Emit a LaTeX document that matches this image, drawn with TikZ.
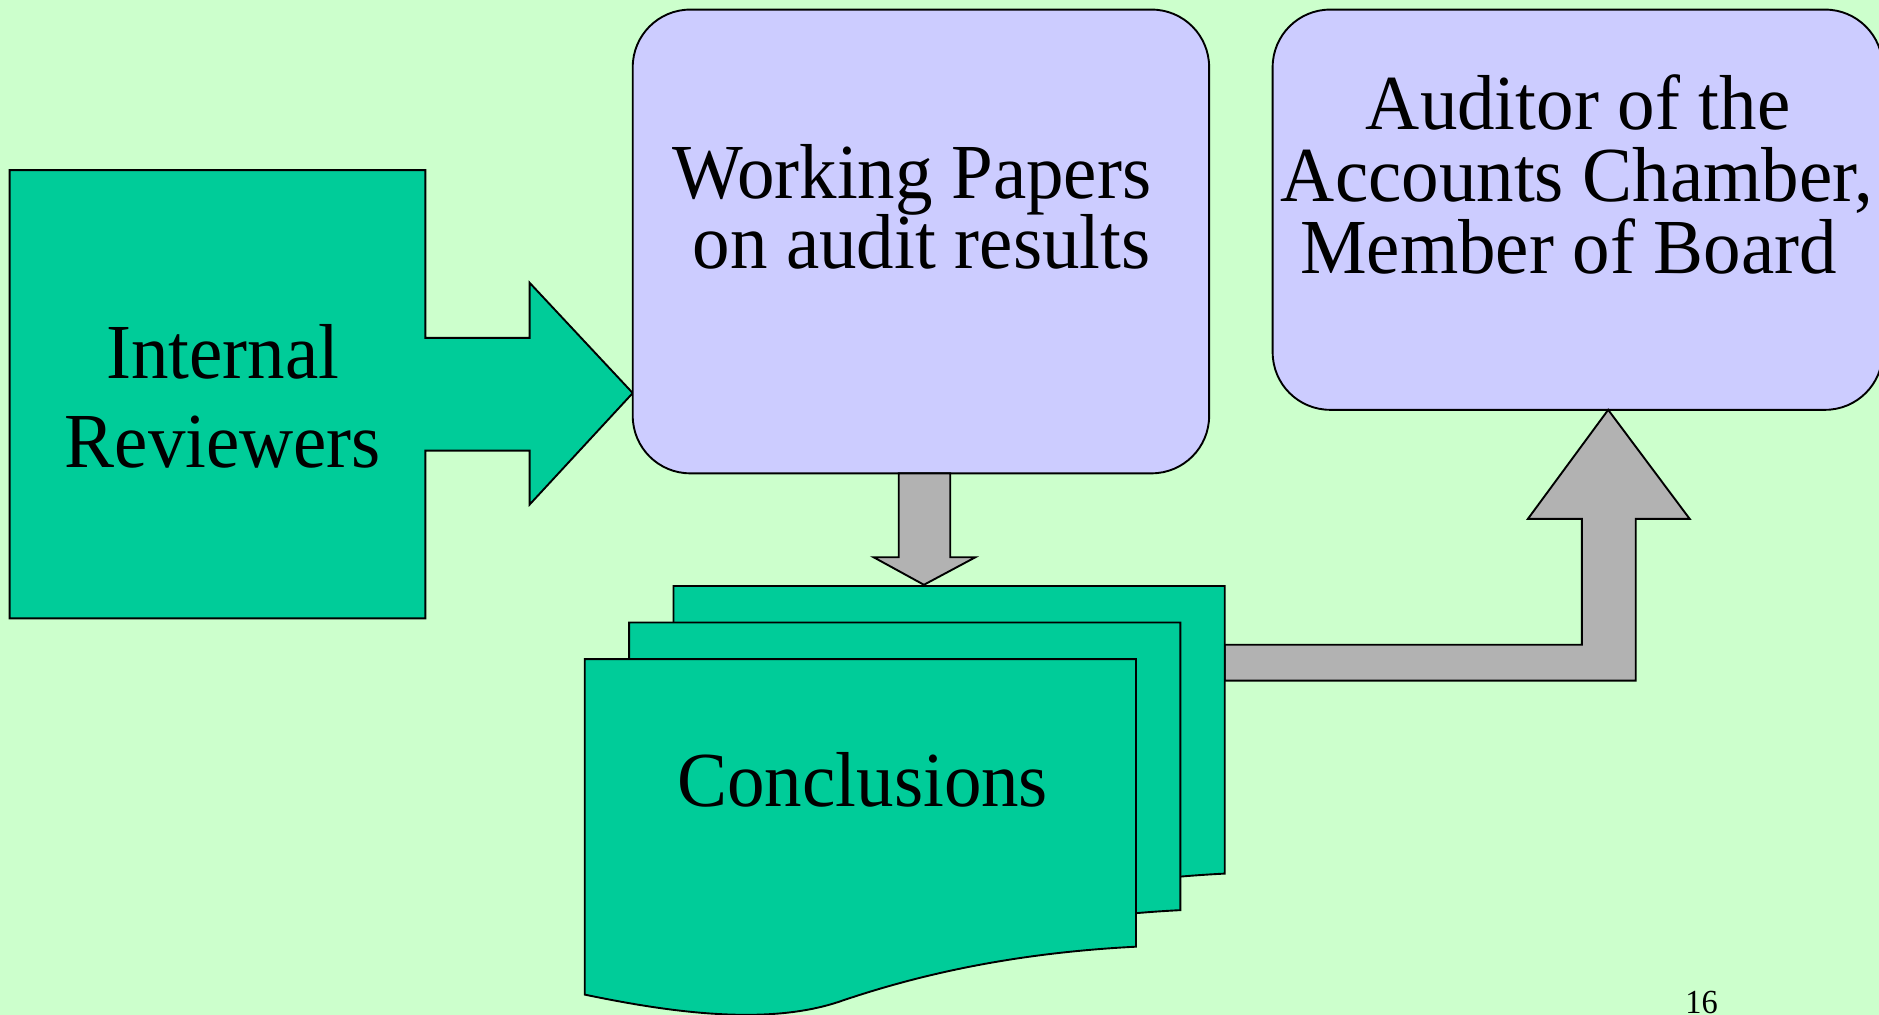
\documentclass[tikz,border=0pt]{standalone}
\usepackage{fontspec}
\setmainfont{Liberation Serif}[FakeStretch=0.962]
\definecolor{bggreen}{HTML}{CCFFCC}
\definecolor{boxgreen}{HTML}{00CC99}
\definecolor{boxblue}{HTML}{CCCCFF}
\definecolor{arrowgray}{HTML}{B2B2B2}
\begin{document}
\begin{tikzpicture}[x=0.02cm,y=-0.02cm,
  outl/.style={draw=black,line width=0.9pt,line join=miter},
  greenfill/.style={outl,fill=boxgreen},
  bluefill/.style={outl,fill=boxblue,rounded corners=0.96cm},
  grayfill/.style={outl,fill=arrowgray},
  lbl/.style={font=\fontsize{37}{40}\selectfont,inner sep=0pt,anchor=base,text=black},
  pagenum/.style={font=\fontsize{16}{18}\selectfont,inner sep=0pt,anchor=base,text=black}]
\fill[bggreen] (0,0) rectangle (1568,847);
\useasboundingbox (0,0) rectangle (1568,847);

% Internal Reviewers block arrow
\draw[greenfill] (8,142) -- (355,142) -- (355,282) -- (442,282) -- (442,236)
  -- (528,328) -- (442,421) -- (442,376) -- (355,376) -- (355,516) -- (8,516) -- cycle;
\node[lbl] (ir1) at (186,316) {Internal};
\node[lbl] (ir2) at (186,390) {Reviewers};

% Working Papers box
\draw[bluefill] (528,8) rectangle (1009,395);
\node[lbl] (wp1) at (761,166) {Working Papers};
\node[lbl] (wp2) at (769,224) {on audit results};

% Auditor box
\draw[bluefill] (1062,8) rectangle (1571,342);
\node[lbl] (au1) at (1317,108) {Auditor of the};
\node[lbl] (au2) at (1316,168) {Accounts Chamber,};
\node[lbl] (au3) at (1309,228) {Member of Board};

% down arrow
\draw[grayfill] (750,395) -- (793,395) -- (793,465) -- (814,465) -- (771,488)
  -- (729,465) -- (750,465) -- cycle;

% elbow arrow
\draw[grayfill] (1022,538) -- (1320,538) -- (1320,433) -- (1275,433) -- (1342,342)
  -- (1410,433) -- (1365,433) -- (1365,568) -- (1022,568) -- cycle;

% stacked documents
\foreach \s in {2,1,0}{
  \begin{scope}[shift={(37*\s,-30.5*\s)}]
    \draw[greenfill] (488,550) -- (948,550) -- (948,790)
      .. controls (850,795) and (770,812) .. (700,836)
      .. controls (640,856) and (560,845) .. (488,830) -- cycle;
  \end{scope}
}
\node[lbl] (cc) at (720,673) {Conclusions};

\node[pagenum] (pg) at (1420,846) {16};
\end{tikzpicture}
\end{document}
